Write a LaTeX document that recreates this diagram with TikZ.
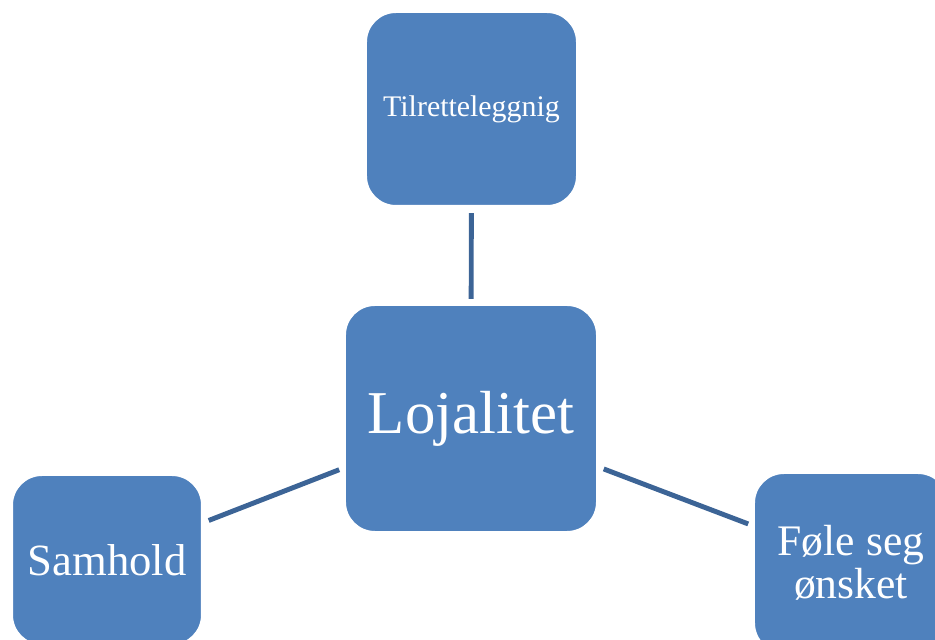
\documentclass[tikz,border=0pt]{standalone}
\usepackage{fontspec}
\setmainfont{Liberation Serif}
\usepackage{tikz}
\usetikzlibrary{positioning}
\definecolor{boxblue}{RGB}{79,129,189}
\definecolor{lineblue}{RGB}{60,100,150}

\begin{document}
\begin{tikzpicture}[x=0.01cm, y=-0.01cm,
    box/.style={rectangle, fill=boxblue, draw=white, line width=0.6pt, rounded corners=0.3cm,
                text=white, align=center, inner sep=0pt},
    link/.style={draw=lineblue, line width=1.4pt, shorten <=0.06cm, shorten >=0.05cm}
]
\useasboundingbox (0,0) rectangle (935,640);
\clip (0,0) rectangle (935,640);

% Center
\node[box, minimum width=2.52cm, minimum height=2.27cm, font=\fontsize{17.3}{19}\selectfont] (loj) at (471,418.5) {Lojalitet};

% Outer boxes
\node[box, minimum width=2.11cm, minimum height=1.94cm, font=\fontsize{8.5}{10}\selectfont] (tilr) at (471.5,109) {Tilretteleggnig};
\node[box, minimum width=1.90cm, minimum height=1.70cm, font=\fontsize{12.7}{14}\selectfont] (samh) at (107,560) {Samhold};
\node[box, minimum width=1.94cm, minimum height=1.80cm, font=\fontsize{12.4}{12.2}\selectfont] (onsk) at (851,563) {Føle seg\\ønsket};

% Connections
\draw[link] (tilr) -- (loj);
\draw[link] (samh) -- (loj);
\draw[link] (loj) -- (onsk);

\end{tikzpicture}
\end{document}
